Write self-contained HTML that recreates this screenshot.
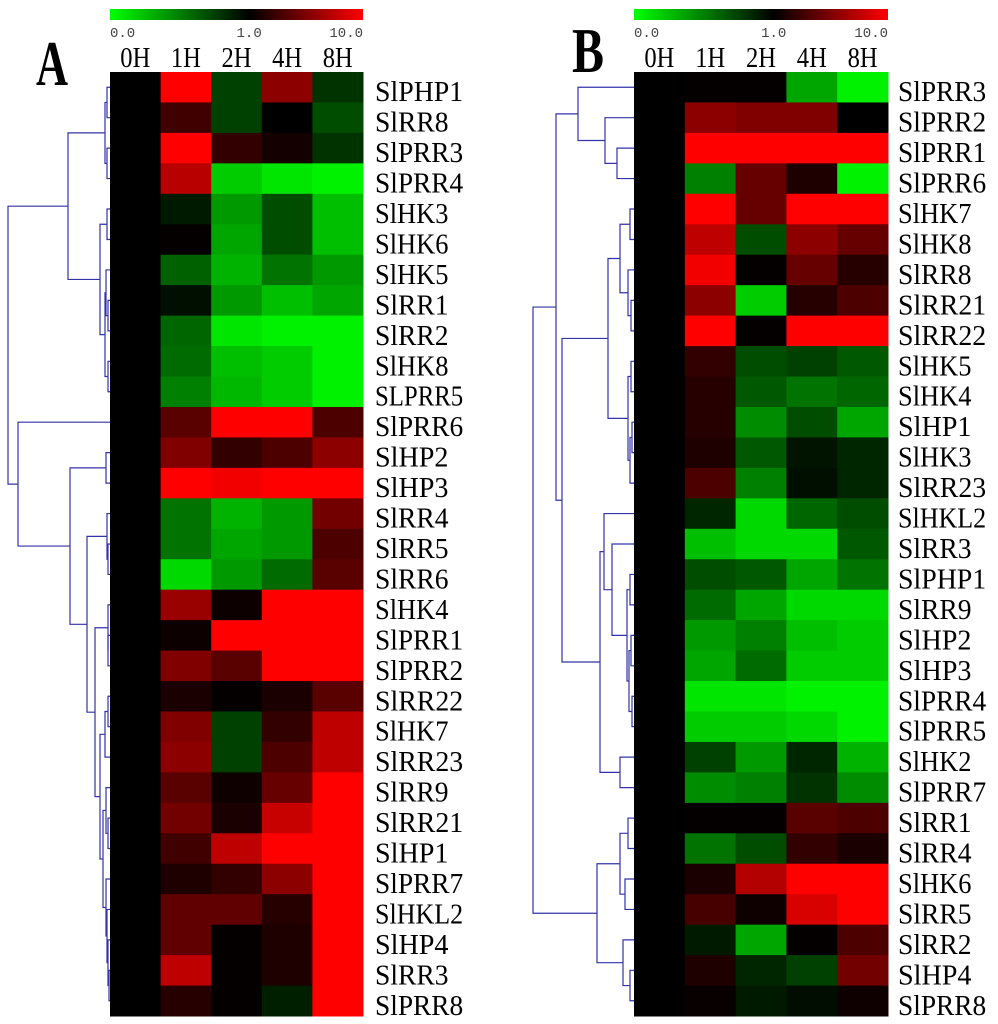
<!DOCTYPE html>
<html><head><meta charset="utf-8"><style>
html,body{margin:0;padding:0;background:#fff;}
svg{display:block;}
</style></head><body>
<svg id="chart" width="998" height="1024" viewBox="0 0 998 1024" xmlns="http://www.w3.org/2000/svg">
<defs>
<linearGradient id="cb" x1="0" x2="1" y1="0" y2="0">
<stop offset="0" stop-color="#00ff00"/><stop offset="0.55" stop-color="#000000"/><stop offset="1" stop-color="#ff0000"/>
</linearGradient>
</defs>
<g id="root"></g>
</svg>
<script>
const timepoints = ["0H","1H","2H","4H","8H"];
const colorTicks = ["0.0","1.0","10.0"];
const genesA = ["SlPHP1","SlRR8","SlPRR3","SlPRR4","SlHK3","SlHK6","SlHK5","SlRR1","SlRR2","SlHK8","SLPRR5","SlPRR6","SlHP2","SlHP3","SlRR4","SlRR5","SlRR6","SlHK4","SlPRR1","SlPRR2","SlRR22","SlHK7","SlRR23","SlRR9","SlRR21","SlHP1","SlPRR7","SlHKL2","SlHP4","SlRR3","SlPRR8"];
// values: -1 = strong green (down), 0 = black, 1 = strong red (up); columns 0H,1H,2H,4H,8H
const valuesA = [
[0,1,-0.25,0.55,-0.2],[0,0.25,-0.25,0,-0.3],[0,1,0.2,0.08,-0.2],[0,0.72,-0.8,-0.9,-0.95],
[0,-0.1,-0.6,-0.3,-0.75],[0,0.02,-0.65,-0.3,-0.75],[0,-0.38,-0.7,-0.45,-0.6],[0,-0.06,-0.6,-0.75,-0.65],
[0,-0.4,-0.9,-0.95,-0.95],[0,-0.42,-0.75,-0.8,-0.95],[0,-0.5,-0.72,-0.8,-0.95],[0,0.35,1,1,0.3],
[0,0.5,0.2,0.3,0.55],[0,1,0.95,1,1],[0,-0.45,-0.7,-0.6,0.45],[0,-0.45,-0.65,-0.6,0.3],
[0,-0.85,-0.6,-0.42,0.35],[0,0.6,0.05,1,1],[0,0.05,1,1,1],[0,0.5,0.35,1,1],
[0,0.1,0.02,0.1,0.35],[0,0.5,-0.25,0.2,0.75],[0,0.55,-0.25,0.3,0.75],[0,0.35,0.06,0.4,1],
[0,0.45,0.1,0.78,1],[0,0.25,0.75,1,1],[0,0.12,0.2,0.55,1],[0,0.38,0.38,0.15,1],
[0,0.38,0.02,0.12,1],[0,0.75,0.02,0.12,1],[0,0.15,0.02,-0.12,1]];
const genesB = ["SlPRR3","SlPRR2","SlPRR1","SlPRR6","SlHK7","SlHK8","SlRR8","SlRR21","SlRR22","SlHK5","SlHK4","SlHP1","SlHK3","SlRR23","SlHKL2","SlRR3","SlPHP1","SlRR9","SlHP2","SlHP3","SlPRR4","SlPRR5","SlHK2","SlPRR7","SlRR1","SlRR4","SlHK6","SlRR5","SlRR2","SlHP4","SlPRR8"];
const valuesB = [
[0,0.02,0.02,-0.65,-0.95],[0,0.55,0.5,0.5,0],[0,1,1,1,1],[0,-0.5,0.4,0.12,-0.95],
[0,1,0.4,1,1],[0,0.75,-0.3,0.55,0.4],[0,0.95,0.02,0.4,0.15],[0,0.55,-0.8,0.15,0.3],
[0,1,0.02,1,1],[0,0.2,-0.3,-0.25,-0.35],[0,0.15,-0.35,-0.45,-0.4],[0,0.15,-0.55,-0.3,-0.65],
[0,0.12,-0.35,-0.08,-0.15],[0,0.3,-0.5,-0.06,-0.15],[0,-0.15,-0.85,-0.4,-0.3],[0,-0.75,-0.85,-0.85,-0.35],
[0,-0.3,-0.35,-0.65,-0.45],[0,-0.42,-0.65,-0.85,-0.85],[0,-0.6,-0.5,-0.75,-0.8],[0,-0.65,-0.42,-0.8,-0.8],
[0,-0.9,-0.9,-0.95,-0.95],[0,-0.8,-0.8,-0.85,-0.95],[0,-0.25,-0.6,-0.15,-0.7],[0,-0.55,-0.5,-0.2,-0.55],
[0,0.02,0.02,0.35,0.3],[0,-0.45,-0.3,0.2,0.1],[0,0.1,0.7,1,1],[0,0.28,0.06,0.85,1],
[0,-0.1,-0.65,0.02,0.3],[0,0.12,-0.15,-0.25,0.45],[0,0.03,-0.1,-0.05,0.06]];
// dendrogram topology: [left, right, linkX]
const treeA = [[[[0,1,107],[2,3,107],105],[[4,5,107],[[6,[7,8,108],106],[9,10,108],105],100],68],
 [11,[[12,13,106],[[14,[15,16,108],107],[[17,[18,19,108],108],[[[20,21,108],22,105],[[23,[24,25,108],106],[26,[27,[28,[29,30,109],108],107],106],103],100],95],87],70],18],8];
const treeB = [[[0,[1,[2,3,617],605],578],[[[[4,5,630],[6,[7,8,631],628],620],[[9,10,631],[[11,12,632],13,630],628],608],[[14,[15,[[16,17,630],[[18,19,631],[20,21,632],629],627],612],604],[22,23,620],600],562],556],
 [[[24,25,628],[26,27,625],620],[28,[29,30,630],623],597],533];

const NS="http://www.w3.org/2000/svg";
const root=document.getElementById('root');
function mk(tag,attrs,parent){const e=document.createElementNS(NS,tag);for(const k in attrs)e.setAttribute(k,attrs[k]);(parent||root).appendChild(e);return e;}
const top0=72, bottom0=1016, nRows=31, rowH=(bottom0-top0)/nRows;
function yRow(i){return top0+rowH*i;}
function color(v){const a=Math.min(1,Math.abs(v));const c=Math.round(255*a);return v>=0?`rgb(${c},0,0)`:`rgb(0,${c},0)`;}

function panel(letter,left,right,letterX,letterY,labelX,genes,values,tree){
  const g=mk('g',{});
  
  
  const colW=(right-left)/timepoints.length;
  const cb=mk('rect',{x:left,y:9,width:right-left,height:11,fill:'url(#cb)'},g);
  
  
  const tx=[left,left+(right-left)*0.55,right];
  const anc=['start','middle','end'];
  colorTicks.forEach((t,i)=>{const e=mk('text',{x:tx[i],y:37,'text-anchor':anc[i],'font-family':'Liberation Mono, monospace','font-size':14,fill:'#444'},g);e.textContent=t;
    
    });
  const L=mk('text',{x:letterX,y:letterY,'font-family':'Liberation Serif, serif','font-size':64,'font-weight':'bold',fill:'#000',textLength:32,lengthAdjust:'spacingAndGlyphs'},g);L.textContent=letter;
  
  
  timepoints.forEach((t,j)=>{const e=mk('text',{x:left+colW*(j+0.5)-15,y:67,'font-family':'Liberation Serif, serif','font-size':28,fill:'#000',textLength:30,lengthAdjust:'spacingAndGlyphs'},g);e.textContent=t;
    
    });
  values.forEach((row,i)=>{row.forEach((v,j)=>{const r=mk('rect',{x:left+colW*j,y:yRow(i),width:colW+0.5,height:rowH+0.5,fill:color(v)},g);
    
    });
    const t=mk('text',{x:labelX,y:yRow(i)+rowH*0.5+14,'font-family':'Liberation Serif, serif','font-size':29,fill:'#000',textLength:genes[i].length*14.7,lengthAdjust:'spacingAndGlyphs'},g);t.textContent=genes[i];
    
    });
  const dg=mk('g',{stroke:'#3333aa','stroke-width':1.2,fill:'none'},g);
  
  
  function draw(n){
    if(typeof n==='number') return {x:left,y:yRow(n)+rowH/2};
    const a=draw(n[0]),b=draw(n[1]),x=n[2];
    mk('path',{d:`M${a.x},${a.y}H${x}V${b.y}H${b.x}`},dg);
    return {x:x,y:(a.y+b.y)/2};
  }
  draw(tree);
}
panel('A',110,363,36,85,375,genesA,valuesA,treeA);
panel('B',634,888,572,72,898,genesB,valuesB,treeB);
</script>
</body></html>
